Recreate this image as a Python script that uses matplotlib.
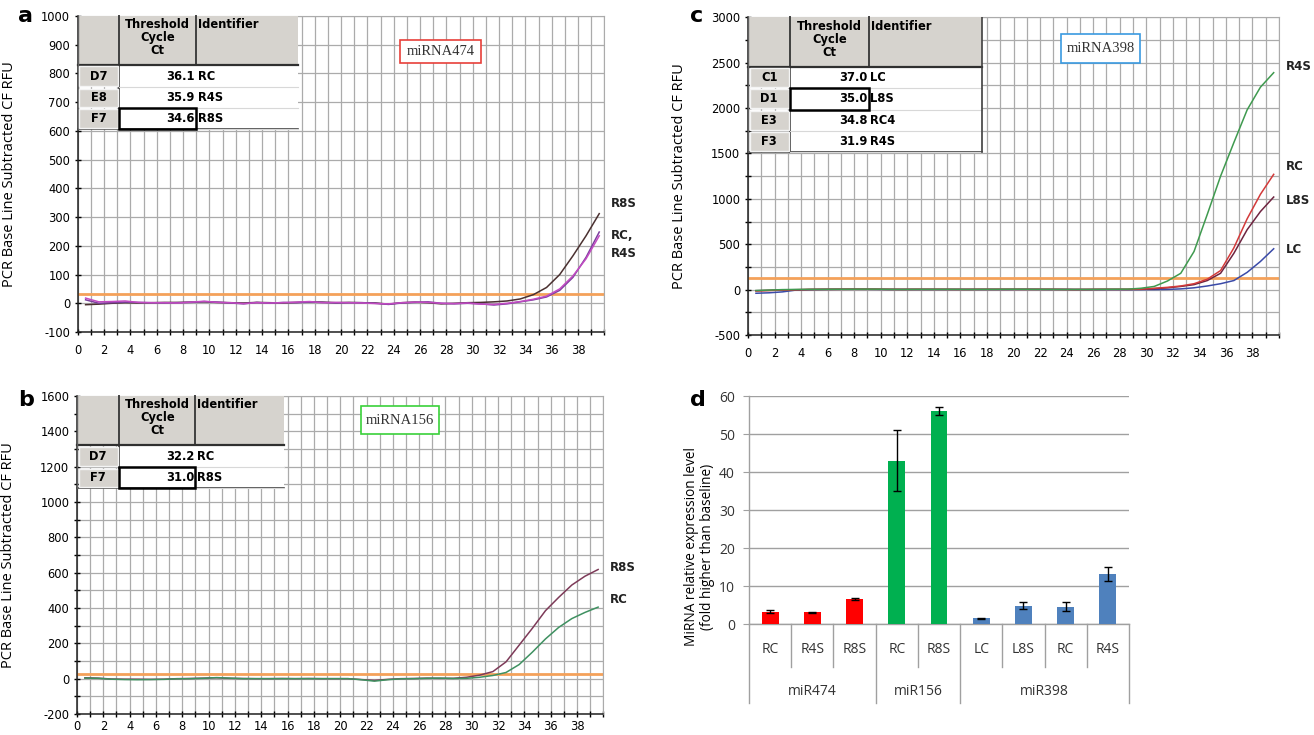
import numpy as np
import matplotlib

matplotlib.use("Agg")
import matplotlib.pyplot as plt  # noqa: E402
from matplotlib.patches import Rectangle  # noqa: E402

# ---- amplification data (cycles 1..40, plotted at cycle - 0.4) ----
CYCLES = np.arange(1, 41)

A_R8S = [-5, -3, 0, 2, 1, 2, 3, 3, 4, 5, 3, 2, 1, 3, 2, 1, 3, 5, 4, 2,
         3, 2, 1, -3, 2, 4, 2, -2, 0, 2, 3, 5, 8, 15, 30, 55, 100, 165, 235, 312]
A_RC = [12, 0, 2, 4, 3, 2, 1, 2, 3, 6, 4, 1, -2, 3, 0, 3, 2, 4, 3, 1,
        2, 2, 0, -4, 1, 3, 5, 0, -2, 0, -2, -6, -2, 5, 12, 22, 45, 90, 160, 248]
A_R4S = [18, 5, 6, 8, 3, 2, 2, 1, 4, 7, 3, 2, -1, 2, 1, 2, 4, 6, 2, 3,
         2, 1, -1, -2, 2, 4, 3, 0, -1, 1, -3, -4, 0, 6, 14, 25, 50, 95, 155, 235]

B_R8S = [5, 3, -2, -3, -3, -4, -3, 0, 1, 3, 5, 2, 1, 0, 0, 1, 0, 1, 0, 0,
         0, -5, -10, -4, 0, 1, 3, 2, 2, 8, 20, 40, 95, 190, 285, 385, 460, 530, 580, 618]
B_RC = [3, 2, -3, -5, -6, -5, -4, -1, 0, 2, 6, 3, 0, 0, 0, 0, 0, 0, 0, 0,
        0, -6, -14, -6, -1, 0, 2, 3, 1, 2, 8, 18, 35, 80, 150, 225, 290, 340, 375, 405]

C_R4S = [-10, -5, 0, 2, 3, 3, 4, 4, 5, 5, 3, 2, 3, 3, 3, 3, 2, 3, 3, 4,
         4, 3, 3, 2, 2, 2, 3, 4, 5, 15, 35, 95, 180, 420, 830, 1250, 1620, 1980, 2230, 2390]
C_RC = [-15, -10, -5, -2, 2, 3, 3, 4, 4, 4, 3, 2, 3, 3, 3, 2, 2, 3, 3, 3,
        3, 3, 3, 2, 1, 2, 3, 3, 3, 5, 15, 25, 40, 65, 115, 210, 460, 780, 1050, 1270]
C_L8S = [-12, -8, -3, -1, 1, 2, 3, 3, 3, 3, 2, 2, 2, 2, 2, 2, 2, 2, 2, 2,
         2, 2, 2, 2, 1, 1, 2, 2, 2, 3, 10, 20, 35, 55, 100, 180, 400, 660, 860, 1020]
C_LC = [-40, -35, -25, -5, 0, 2, 3, 4, 4, 3, 2, 2, 2, 2, 2, 2, 2, 2, 2, 2,
        3, 3, 2, 2, 1, 1, 1, 1, 0, 0, 0, 2, 8, 20, 40, 65, 100, 190, 310, 450]

THRESH_A, THRESH_B, THRESH_C = 31, 29, 125

# Ct tables: (well, Ct, identifier)
TABLE_A = [("D7", "36.1", "RC"), ("E8", "35.9", "R4S"), ("F7", "34.6", "R8S")]
TABLE_B = [("D7", "32.2", "RC"), ("F7", "31.0", "R8S")]
TABLE_C = [("C1", "37.0", "LC"), ("D1", "35.0", "L8S"), ("E3", "34.8", "RC4"), ("F3", "31.9", "R4S")]

# ---- relative expression (panel d) ----
D_CATS = ["RC", "R4S", "R8S", "RC", "R8S", "LC", "L8S", "RC", "R4S"]
D_VALUES = [3.2, 3.1, 6.6, 43.0, 56.0, 1.5, 4.8, 4.5, 13.2]
D_ERRORS = [0.4, 0.1, 0.3, 8.0, 1.0, 0.2, 0.9, 1.2, 1.8]
D_GROUPS = [("miR474", 0, 2), ("miR156", 3, 4), ("miR398", 5, 8)]

RED = "#ff0000"
GREEN = "#00b050"
BLUE = "#4f81bd"
D_COLORS = [RED] * 3 + [GREEN] * 2 + [BLUE] * 4

ORANGE = "#f4a15a"
GRID = "#ababab"
HEAD_GRAY = "#d6d3ce"
TICK_FONT = dict(family="DejaVu Sans", size=8.3)
LABEL_FONT = "Open Sans"
TBL_FS = 8.3


def draw_table(ax, xs, top, head_bot, row_edges, rows, bold_row):
    """Ct table drawn over the upper-left of an amplification plot."""
    x0, x1, x2, x3 = xs
    ax.add_patch(Rectangle((x0, head_bot), x3 - x0, top - head_bot,
                           facecolor=HEAD_GRAY, edgecolor="none", zorder=4))
    ax.add_patch(Rectangle((x1, row_edges[-1]), x3 - x1, head_bot - row_edges[-1],
                           facecolor="white", edgecolor="none", zorder=4))
    kw = dict(zorder=5, clip_on=False)
    ax.plot([x1, x1], [top, row_edges[-1]], color="#404040", lw=1.4, **kw)
    ax.plot([x2, x2], [top, head_bot], color="#404040", lw=1.4, **kw)
    ax.plot([x0, x3], [head_bot, head_bot], color="#303030", lw=1.6, **kw)
    ax.plot([x0, x3], [row_edges[-1], row_edges[-1]], color="#404040", lw=1.2, **kw)
    ax.plot([x0, x0], [top, row_edges[-1]], color="#606060", lw=1.0, **kw)

    span = top - head_bot
    ax.text((x1 + x2) / 2, top - span * 0.05, "Threshold\nCycle\nCt", ha="center", va="top",
            fontsize=TBL_FS, fontweight="bold", family="DejaVu Sans", linespacing=1.0, zorder=6)
    ax.text(x2 + 0.15, top - span * 0.05, "Identifier", ha="left", va="top",
            fontsize=TBL_FS, fontweight="bold", family="DejaVu Sans", zorder=6)

    edges = [head_bot] + list(row_edges)
    for i, (well, ct, ident) in enumerate(rows):
        hi, lo = edges[i], edges[i + 1]
        h = hi - lo
        ax.add_patch(Rectangle((x0 + 0.12, lo + h * 0.06), x1 - x0 - 0.24, h * 0.88,
                               facecolor=HEAD_GRAY, edgecolor="#f4f4f4", lw=1.0, zorder=5))
        ax.plot([x1, x3], [lo, lo], color="#d8d8d8", lw=0.8, zorder=5)
        ym = (hi + lo) / 2
        ax.text((x0 + x1) / 2, ym, well, ha="center", va="center", fontsize=TBL_FS,
                fontweight="bold", family="DejaVu Sans", zorder=6)
        ax.text(x2 - 0.1, ym, ct, ha="right", va="center", fontsize=TBL_FS,
                fontweight="bold", family="DejaVu Sans", zorder=6)
        ax.text(x2 + 0.12, ym, ident, ha="left", va="center", fontsize=TBL_FS,
                fontweight="bold", family="DejaVu Sans", zorder=6)
        if i == bold_row:
            ax.add_patch(Rectangle((x1, lo), x2 - x1, h, facecolor="none",
                                   edgecolor="black", lw=1.8, zorder=7))


def rfu_panel(ax, ylim, grid_step, label_step, threshold, curves, ends, xpad=6):
    x = CYCLES - 0.4
    ax.set_xlim(0, 40)
    ax.set_ylim(*ylim)
    ax.set_xticks(np.arange(0, 41, 1))
    ax.set_xticklabels([str(v) if v % 2 == 0 and v < 40 else "" for v in range(41)], **TICK_FONT)
    yt = np.arange(ylim[0], ylim[1] + 1, grid_step)
    ax.set_yticks(yt)
    ax.set_yticklabels([str(int(v)) if v % label_step == 0 else "" for v in yt], **TICK_FONT)
    ax.grid(True, color=GRID, lw=0.9, zorder=0)
    ax.tick_params(direction="inout", length=5, width=1, colors="black")
    ax.tick_params(axis="x", pad=xpad)
    ax.tick_params(axis="y", pad=3)
    for side in ("top", "right"):
        ax.spines[side].set_color(GRID)
    for side in ("left", "bottom"):
        ax.spines[side].set_color("#202020")
        ax.spines[side].set_linewidth(1.1)
    ax.axhline(threshold, color=ORANGE, lw=2.0, zorder=2)
    for vals, color in curves:
        ax.plot(x, vals, color=color, lw=1.1, zorder=3)
    for txt, yv in ends:
        ax.text(40.5, yv, txt, ha="left", va="center", fontsize=8.5, fontweight="bold",
                family="DejaVu Sans", color="#222222", clip_on=False, linespacing=1.5)
    ax.set_ylabel("PCR Base Line Subtracted CF RFU", family=LABEL_FONT, fontsize=10.5)
    ax.yaxis.set_label_coords(-0.115, 0.5)


def note_box(ax, x0, y0, w, h, text, color):
    ax.add_patch(Rectangle((x0, y0), w, h, facecolor="white", edgecolor=color, lw=1.2, zorder=5))
    ax.text(x0 + w / 2, y0 + h / 2, text, ha="center", va="center", fontsize=10.5,
            family="Liberation Serif", color="#333333", zorder=6)


fig = plt.figure(figsize=(13.14, 7.35), dpi=100)
W, H = 1314, 735


def px_axes(left, top, right, bottom):
    return fig.add_axes([left / W, 1 - bottom / H, (right - left) / W, (bottom - top) / H])


# ---- panel a ----
ax_a = px_axes(77.7, 16, 604.5, 332)
rfu_panel(ax_a, (-100, 1000), 100, 100, THRESH_A,
          [(A_R8S, "#4a3030"), (A_RC, "#7b3f9e"), (A_R4S, "#c24bc2")],
          [("R8S", 348), ("RC,\nR4S", 205)])
draw_table(ax_a, (0, 3.15, 9.0, 16.7), 1000, 830, [752, 679, 606], TABLE_A, 2)
note_box(ax_a, 24.5, 835, 6.1, 80, "miRNA474", "#e8403a")

# ---- panel b ----
ax_b = px_axes(77, 396, 603.4, 714)
rfu_panel(ax_b, (-200, 1600), 100, 200, THRESH_B,
          [(B_R8S, "#7d3a58"), (B_RC, "#3f9161")],
          [("R8S", 629), ("RC", 446)], xpad=2)
draw_table(ax_b, (0, 3.2, 9.0, 15.7), 1600, 1321, [1196, 1080], TABLE_B, 1)
note_box(ax_b, 21.6, 1383, 5.9, 159, "miRNA156", "#3ad13a")

# ---- panel c ----
ax_c = px_axes(748, 17.3, 1279, 335)
rfu_panel(ax_c, (-500, 3000), 250, 500, THRESH_C,
          [(C_LC, "#3a4aa8"), (C_L8S, "#6e2440"), (C_RC, "#d33a3a"), (C_R4S, "#3f9a4f")],
          [("R4S", 2455), ("RC", 1355), ("L8S", 980), ("LC", 437)])
ax_c.yaxis.set_label_coords(-0.115, 0.5)
draw_table(ax_c, (0, 3.2, 9.1, 17.6), 3000, 2455, [2222, 1981, 1748, 1511], TABLE_C, 1)
ax_c.plot([17.6, 17.6], [3000, 1511], color="#404040", lw=1.2, zorder=6)
note_box(ax_c, 23.6, 2492, 5.9, 322, "miRNA398", "#3a9ae0")

# ---- panel d ----
ax_d = px_axes(749, 396, 1129, 624)
pos = np.arange(len(D_CATS))
ax_d.bar(pos, D_VALUES, width=0.4, color=D_COLORS, zorder=3)
ax_d.errorbar(pos, D_VALUES, yerr=D_ERRORS, fmt="none", ecolor="black",
              elinewidth=1.0, capsize=3, capthick=1.0, zorder=4)
ax_d.set_xlim(-0.5, len(D_CATS) - 0.5)
ax_d.set_ylim(0, 60)
ax_d.set_yticks(np.arange(0, 61, 10))
ax_d.set_yticklabels([str(v) for v in range(0, 61, 10)], family=LABEL_FONT, fontsize=10,
                     color="#333333")
ax_d.set_xticks([])
ax_d.grid(True, axis="y", color="#a0a0a0", lw=1.0, zorder=0)
ax_d.tick_params(axis="y", length=4, color="#a0a0a0", pad=6)
for side in ("top", "right"):
    ax_d.spines[side].set_visible(False)
for side in ("left", "bottom"):
    ax_d.spines[side].set_color("#a0a0a0")
    ax_d.spines[side].set_linewidth(1.0)

tr = ax_d.get_xaxis_transform()
for p, name in zip(pos, D_CATS):
    ax_d.text(p, -0.11, name, transform=tr, ha="center", va="center", family=LABEL_FONT,
              fontsize=10, color="#333333")
group_edges = {g[1] - 0.5 for g in D_GROUPS} | {g[2] + 0.5 for g in D_GROUPS}
for b in np.arange(-0.5, len(D_CATS), 1.0):
    low = -0.346 if b in group_edges else -0.189
    ax_d.plot([b, b], [0, low], transform=tr, color="#a0a0a0", lw=1.0, clip_on=False)
for name, i0, i1 in D_GROUPS:
    ax_d.text((i0 + i1) / 2, -0.298, name, transform=tr, ha="center", va="center",
              family=LABEL_FONT, fontsize=10, color="#333333")
ax_d.set_ylabel("MiRNA relative expression level\n(fold higher than baseline)",
                family=LABEL_FONT, fontsize=9.8, linespacing=1.05)
ax_d.yaxis.set_label_coords(-0.09, 0.34)

# panel letters
for lbl, xp, yp in (("a", 18, 16), ("c", 690, 16), ("b", 18, 400), ("d", 690, 400)):
    fig.text(xp / W, 1 - yp / H, lbl, ha="left", va="center", fontsize=16, fontweight="bold",
             family="DejaVu Sans")

fig.savefig("out.png", dpi=100)
